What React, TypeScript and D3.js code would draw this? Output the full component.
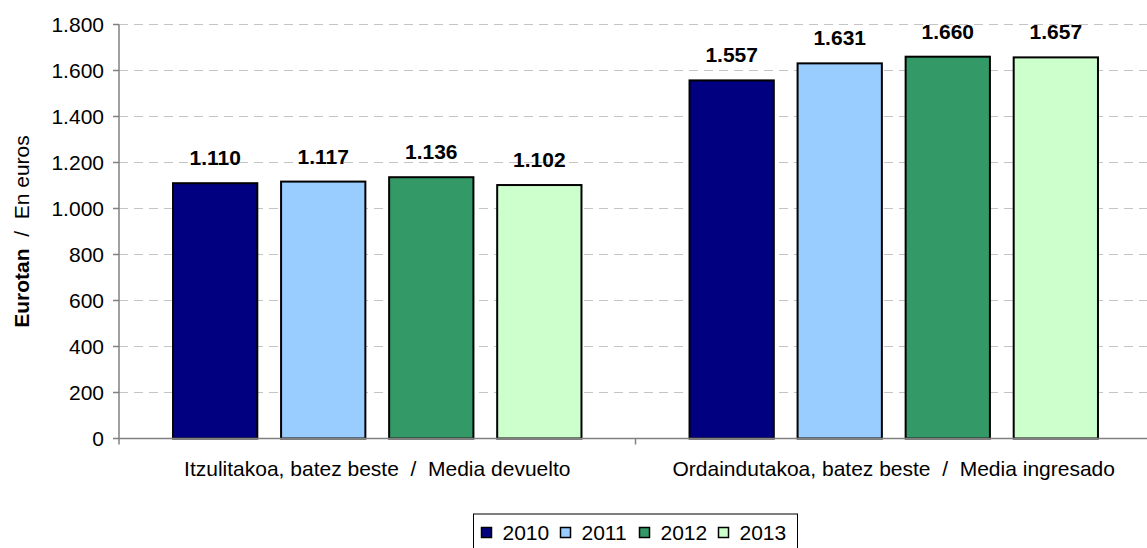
import React from "react";
import * as d3 from "d3";

const categories = [
  "Itzulitakoa, batez beste  /  Media devuelto",
  "Ordaindutakoa, batez beste  /  Media ingresado",
];
const years = ["2010", "2011", "2012", "2013"];
const values2010 = [1110, 1557];
const values2011 = [1117, 1631];
const values2012 = [1136, 1660];
const values2013 = [1102, 1657];
const seriesValues = [values2010, values2011, values2012, values2013];
const colors = ["#000080", "#99CCFF", "#339966", "#CCFFCC"];
const yTicks = [0, 200, 400, 600, 800, 1000, 1200, 1400, 1600, 1800];
const yTitleBold = "Eurotan";
const yTitleRest = "  /  En euros";

const W = 1147;
const H = 548;
const FONT = "'Liberation Sans', Arial, Helvetica, sans-serif";
const FS = 21;

const locale = d3.formatLocale({
  decimal: ",",
  thousands: ".",
  grouping: [3],
  currency: ["", "€"],
});
const fmt = locale.format(",d");

export default function App() {
  const left = 119;
  const right = 1152;
  const top = 24.5;
  const bottom = 438.5;

  const x0 = d3.scaleBand<string>().domain(categories).range([left, right]).paddingInner(0).paddingOuter(0);
  const x1 = d3
    .scaleBand<string>()
    .domain(years)
    .range([0, x0.bandwidth()])
    .paddingInner(0.22)
    .paddingOuter(0.5);
  const y = d3.scaleLinear().domain([0, 1800]).range([bottom, top]);

  // legend layout
  const itemW = 79;
  const legW = 8 + years.length * itemW - 10 + 8 + 2;
  const legX = (left + right) / 2 - legW / 2;
  const legY = 514;

  const boundaries = [left, ...categories.map((c) => (x0(c) as number) + x0.bandwidth())];

  return (
    <div style={{ position: "absolute", left: 0, top: 0, width: W, height: H, background: "#fff" }}>
      <svg width={W} height={H} style={{ display: "block" }} fontFamily={FONT}>
        <rect x={0} y={0} width={W} height={H} fill="#fff" />
        {/* gridlines */}
        {yTicks
          .filter((t) => t !== 0)
          .map((t) => (
            <line
              key={"g" + t}
              x1={left}
              x2={right}
              y1={y(t)}
              y2={y(t)}
              stroke="#c4c4c4"
              strokeWidth={1}
              strokeDasharray="9,6"
            />
          ))}
        {/* bars */}
        {categories.map((c, ci) =>
          years.map((yr, si) => {
            const v = seriesValues[si][ci];
            const bx = (x0(c) as number) + (x1(yr) as number);
            return (
              <g key={c + yr}>
                <rect
                  x={bx}
                  y={y(v)}
                  width={x1.bandwidth()}
                  height={bottom - y(v)}
                  fill={colors[si]}
                  stroke="#000"
                  strokeWidth={2}
                />
                <text
                  x={bx + x1.bandwidth() / 2}
                  y={y(v) - 18}
                  textAnchor="middle"
                  fontSize={FS}
                  fontWeight="bold"
                  fill="#000"
                >
                  {fmt(v)}
                </text>
              </g>
            );
          })
        )}
        {/* y axis */}
        <line x1={left} x2={left} y1={top} y2={bottom} stroke="#808080" strokeWidth={1.5} />
        {yTicks.map((t) => (
          <g key={"t" + t}>
            <line x1={left - 6} x2={left} y1={y(t)} y2={y(t)} stroke="#808080" strokeWidth={1.5} />
            <text x={104} y={y(t)} dy="0.35em" textAnchor="end" fontSize={FS} fill="#000">
              {fmt(t)}
            </text>
          </g>
        ))}
        {/* x axis */}
        <line x1={left} x2={right} y1={bottom} y2={bottom} stroke="#808080" strokeWidth={1.5} />
        {boundaries.map((b, i) => (
          <line key={"xb" + i} x1={b} x2={b} y1={bottom} y2={bottom + 6} stroke="#808080" strokeWidth={1.5} />
        ))}
        {categories.map((c) => (
          <text
            key={"cl" + c}
            x={(x0(c) as number) + x0.bandwidth() / 2}
            y={476}
            textAnchor="middle"
            fontSize={FS}
            fill="#000"
            xmlSpace="preserve"
            style={{ whiteSpace: "pre" }}
          >
            {c}
          </text>
        ))}
        {/* y title */}
        <text
          transform="translate(29,231.5) rotate(-90)"
          textAnchor="middle"
          fontSize={FS}
          fill="#000"
          xmlSpace="preserve"
          style={{ whiteSpace: "pre" }}
        >
          <tspan fontWeight="bold">{yTitleBold}</tspan>
          <tspan>{yTitleRest}</tspan>
        </text>
        {/* legend */}
        <rect x={legX} y={legY} width={legW} height={60} fill="#fff" stroke="#000" strokeWidth={1} />
        {years.map((yr, i) => {
          const ix = legX + 8 + i * itemW;
          return (
            <g key={"lg" + yr}>
              <rect x={ix} y={527.5} width={10} height={10} fill={colors[i]} stroke="#000" strokeWidth={1.5} />
              <text x={ix + 21} y={539.5} fontSize={FS} fill="#000">
                {yr}
              </text>
            </g>
          );
        })}
      </svg>
    </div>
  );
}
